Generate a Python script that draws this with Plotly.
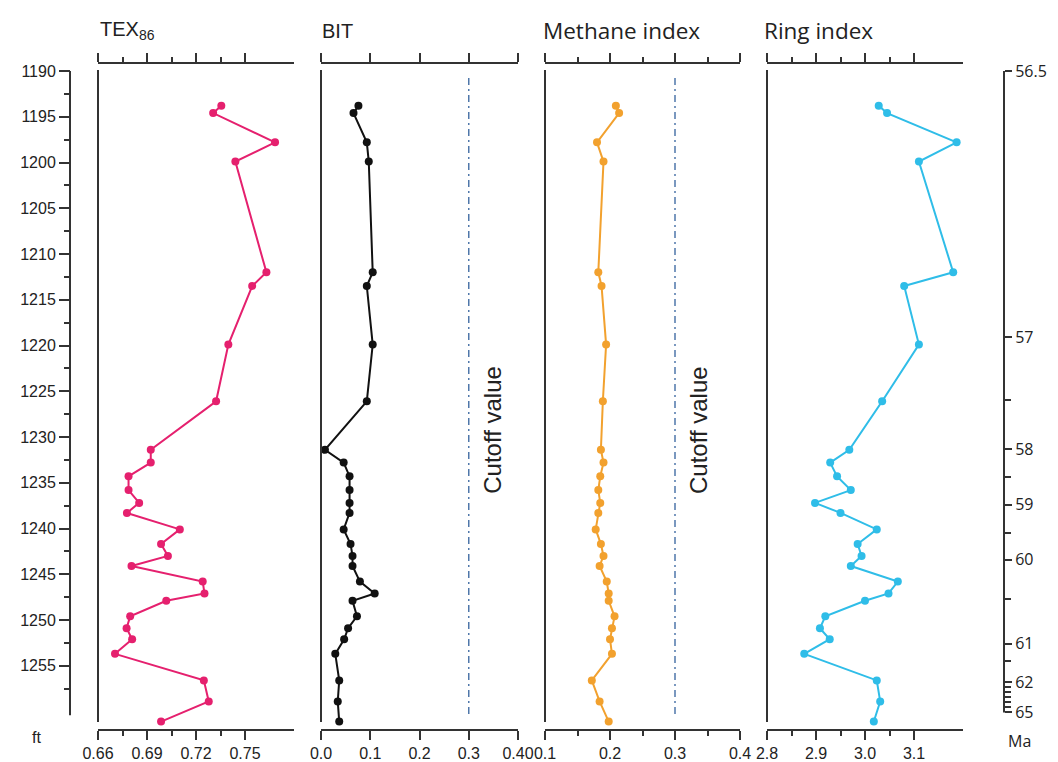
import plotly.graph_objects as go

# ---------------- data ----------------
depth_ft = [1193.8, 1194.6, 1197.8, 1199.9, 1212.0, 1213.5, 1219.9, 1226.1,
            1231.4, 1232.8, 1234.3, 1235.8, 1237.2, 1238.3, 1240.1, 1241.7,
            1243.0, 1244.1, 1245.8, 1247.1, 1247.9, 1249.6, 1250.9, 1252.1,
            1253.7, 1256.6, 1258.9, 1261.1]

tex86 = [0.7355, 0.7305, 0.7684, 0.7441, 0.7631, 0.7544, 0.7398, 0.7323,
         0.6923, 0.6923, 0.6787, 0.6787, 0.6852, 0.6777, 0.7101, 0.6986,
         0.7028, 0.6805, 0.7241, 0.7252, 0.7018, 0.6797, 0.6775, 0.6809,
         0.6704, 0.7248, 0.7278, 0.6986]

bit = [0.076, 0.066, 0.093, 0.097, 0.105, 0.093, 0.105, 0.093,
       0.008, 0.046, 0.058, 0.058, 0.058, 0.058, 0.046, 0.060,
       0.064, 0.064, 0.079, 0.109, 0.064, 0.073, 0.055, 0.047,
       0.029, 0.037, 0.034, 0.037]

methane_index = [0.209, 0.214, 0.180, 0.190, 0.182, 0.187, 0.194, 0.189,
                 0.186, 0.190, 0.185, 0.182, 0.185, 0.182, 0.178, 0.186,
                 0.190, 0.184, 0.195, 0.198, 0.198, 0.207, 0.203, 0.200,
                 0.203, 0.172, 0.184, 0.198]

ring_index = [3.028, 3.045, 3.187, 3.110, 3.180, 3.080, 3.110, 3.035,
              2.968, 2.929, 2.943, 2.971, 2.898, 2.950, 3.024, 2.985,
              2.993, 2.971, 3.067, 3.048, 3.000, 2.919, 2.908, 2.928,
              2.876, 3.024, 3.031, 3.018]

bit_cutoff = 0.3
methane_cutoff = 0.3

depth_tick_vals = [1190, 1195, 1200, 1205, 1210, 1215, 1220, 1225,
                   1230, 1235, 1240, 1245, 1250, 1255]
depth_minor_vals = [1192.5, 1197.5, 1202.5, 1207.5, 1212.5, 1217.5, 1222.5,
                    1227.5, 1232.5, 1237.5, 1242.5, 1247.5, 1252.5, 1257.5]
depth_axis_end = 1260.4

# age model tie points (depth in ft -> age in Ma)
ma_tie_depth = [1190.0, 1219.1, 1231.3, 1237.4, 1243.4, 1252.6, 1256.8, 1260.1]
ma_tie_label = ["56.5", "57", "58", "59", "60", "61", "62", "65"]
ma_minor_depth = [1226.0, 1234.4, 1240.5, 1247.7, 1254.5,
                  1257.3, 1257.9, 1258.4, 1259.0, 1259.5]

tex_ticks = [0.66, 0.69, 0.72, 0.75]
tex_minor = [0.675, 0.705, 0.735]
bit_ticks = [0.0, 0.1, 0.2, 0.3, 0.4]
bit_ticktext = ["0.0", "0.1", "0.2", "0.3", "0.40"]
meth_ticks = [0.1, 0.2, 0.3, 0.4]
meth_minor = [0.15, 0.25, 0.35]
ring_ticks = [2.8, 2.9, 3.0, 3.1]
ring_minor = [2.85, 2.95, 3.05]

# ---------------- layout helpers ----------------
W, H = 1058, 762


def px(x):
    return x / W


def py(y):
    return 1 - y / H


AX = "#333333"
TXT = "#222222"
SANS = "Liberation Sans, Arial, sans-serif"
ROUND = "Open Sans, sans-serif"

TOP_PX, BOT_PX = 64, 729
Y_RANGE = [1190 + (BOT_PX - 71) / 9.15, 1190 + (TOP_PX - 71) / 9.15]
Y_DOM = [py(BOT_PX), py(TOP_PX)]


def depth_to_paper(d):
    frac = (Y_RANGE[0] - d) / (Y_RANGE[0] - Y_RANGE[1])
    return Y_DOM[0] + frac * (Y_DOM[1] - Y_DOM[0])


panels = [(98, 294), (321, 518), (545, 740), (767, 963)]

fig = go.Figure()

series = [
    (tex86, "x", "y", "#E5206E"),
    (bit, "x2", "y", "#111111"),
    (methane_index, "x3", "y", "#F2A12E"),
    (ring_index, "x4", "y2", "#2FBDE8"),
]
for vals, xa, ya, col in series:
    fig.add_trace(go.Scatter(
        x=vals, y=depth_ft, xaxis=xa, yaxis=ya, mode="lines+markers",
        line=dict(color=col, width=2), marker=dict(color=col, size=8),
        showlegend=False, hoverinfo="skip"))


def xaxis_def(dom, rng, tv, tt, minor_vals):
    d = dict(
        domain=[px(dom[0]), px(dom[1])], range=rng, anchor="y",
        automargin=False,
        tickmode="array", tickvals=tv, ticktext=tt,
        ticks="outside", ticklen=9, tickwidth=2, tickcolor=AX,
        showline=True, linecolor=AX, linewidth=2, mirror="ticks",
        showgrid=False, zeroline=False,
        tickfont=dict(family=SANS, size=16, color=TXT),
    )
    if minor_vals:
        d["minor"] = dict(tickmode="array", tickvals=minor_vals, ticks="outside",
                          ticklen=5, tickwidth=2, tickcolor=AX, showgrid=False)
    return d


layout = dict(
    width=W, height=H, margin=dict(l=0, r=0, t=0, b=0, pad=0, autoexpand=False),
    paper_bgcolor="white", plot_bgcolor="white", showlegend=False,
    xaxis=xaxis_def(panels[0], [0.66, 0.78], tex_ticks,
                    [f"{v:.2f}" for v in tex_ticks], tex_minor),
    xaxis2=xaxis_def(panels[1], [0.0, 0.4], bit_ticks, bit_ticktext, None),
    xaxis3=xaxis_def(panels[2], [0.1, 0.4], meth_ticks,
                     [f"{v:.1f}" for v in meth_ticks], meth_minor),
    xaxis4=xaxis_def(panels[3], [2.8, 3.2], ring_ticks,
                     [f"{v:.1f}" for v in ring_ticks], ring_minor),
    yaxis=dict(
        domain=Y_DOM, range=Y_RANGE, automargin=False,
        anchor="free", position=px(70), side="left",
        tickmode="array", tickvals=depth_tick_vals,
        ticktext=[str(v) for v in depth_tick_vals],
        ticks="outside", ticklen=11, tickwidth=2, tickcolor=AX,
        minor=dict(tickmode="array", tickvals=depth_minor_vals, ticks="outside",
                   ticklen=6, tickwidth=2, tickcolor=AX, showgrid=False),
        showline=False, showgrid=False, zeroline=False,
        tickfont=dict(family=SANS, size=16, color=TXT),
    ),
    yaxis2=dict(
        overlaying="y", range=Y_RANGE, anchor="free", position=px(1004),
        automargin=False,
        side="right", tickmode="array", tickvals=ma_tie_depth,
        ticktext=ma_tie_label, ticks="outside", ticklen=7, tickwidth=2,
        tickcolor=AX,
        minor=dict(tickmode="array", tickvals=ma_minor_depth, ticks="outside",
                   ticklen=6, tickwidth=2, tickcolor=AX, showgrid=False),
        showline=False, showgrid=False, zeroline=False,
        tickfont=dict(family=ROUND, size=16, color=TXT),
    ),
)
fig.update_layout(**layout)

shapes = []
# depth axis line
shapes.append(dict(type="line", xref="paper", yref="paper", x0=px(70), x1=px(70),
                   y0=depth_to_paper(depth_tick_vals[0]),
                   y1=depth_to_paper(depth_axis_end),
                   line=dict(color=AX, width=2)))
# Ma axis line
shapes.append(dict(type="line", xref="paper", yref="paper", x0=px(1004), x1=px(1004),
                   y0=depth_to_paper(ma_tie_depth[0]),
                   y1=depth_to_paper(ma_tie_depth[-1]),
                   line=dict(color=AX, width=2)))
# panel left lines
for l, r in panels:
    shapes.append(dict(type="line", xref="paper", yref="paper", x0=px(l), x1=px(l),
                       y0=py(70), y1=py(722), line=dict(color=AX, width=2)))
# cutoff lines
for xa, cut in (("x2", bit_cutoff), ("x3", methane_cutoff)):
    shapes.append(dict(type="line", xref=xa, yref="paper", x0=cut, x1=cut,
                       y0=py(78), y1=py(714),
                       line=dict(color="#4F77AA", width=1.5,
                                 dash="7px,4px,2px,4px")))
fig.update_layout(shapes=shapes)

ann = []
titles = [("TEX<sub>86</sub>", 98, SANS, 20), ("BIT", 320, SANS, 20),
          ("Methane index", 541, ROUND, 22.5), ("Ring index", 762, ROUND, 22.5)]
for txt, x0, fam, sz in titles:
    ann.append(dict(text=txt, xref="paper", yref="paper", x=px(x0), y=py(31),
                    xanchor="left", yanchor="middle", showarrow=False,
                    font=dict(family=fam, size=sz, color=TXT)))
for xa, cut in (("x2", bit_cutoff), ("x3", methane_cutoff)):
    ann.append(dict(text="Cutoff value", xref=xa, yref="paper", x=cut, xshift=23,
                    y=py(430), textangle=-90, showarrow=False,
                    xanchor="center", yanchor="middle",
                    font=dict(family=SANS, size=24, color=TXT)))
ann.append(dict(text="ft", xref="paper", yref="paper", x=px(36), y=py(737),
                xanchor="center", yanchor="middle", showarrow=False,
                font=dict(family=SANS, size=16, color=TXT)))
ann.append(dict(text="Ma", xref="paper", yref="paper", x=px(1019), y=py(741),
                xanchor="center", yanchor="middle", showarrow=False,
                font=dict(family=ROUND, size=16, color=TXT)))
fig.update_layout(annotations=ann)

fig.write_html("out.html")
